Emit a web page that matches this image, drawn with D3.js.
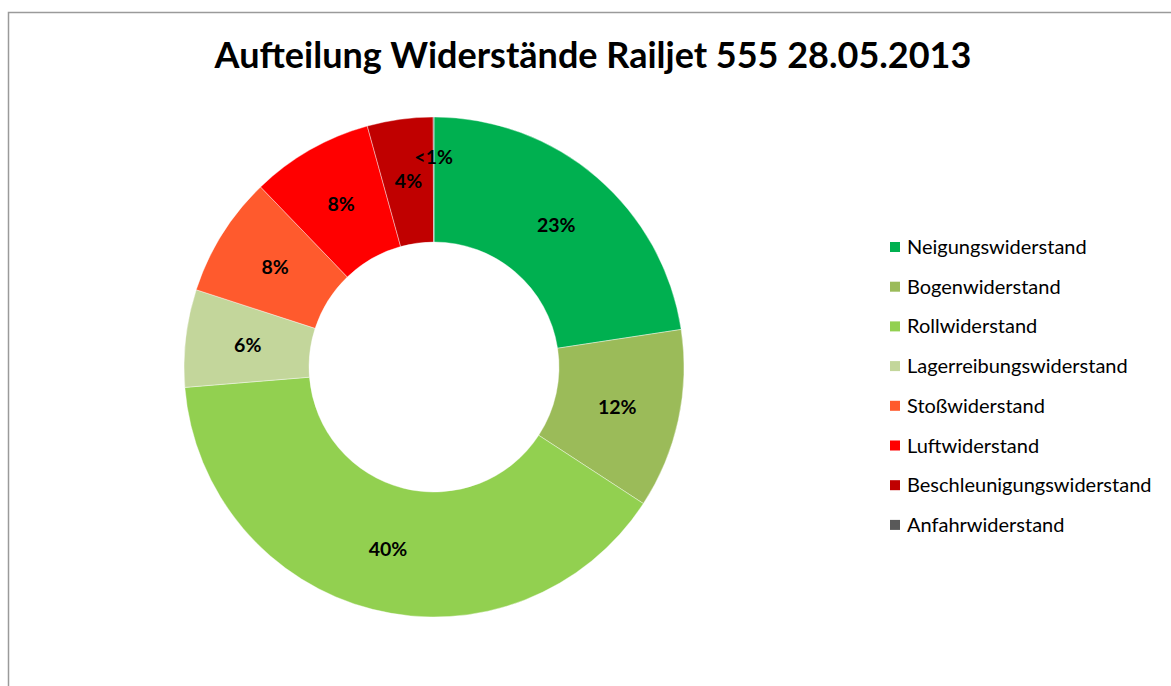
<!DOCTYPE html>
<html>
<head>
<meta charset="utf-8">
<script src="https://cdn.jsdelivr.net/npm/d3@7"></script>
<style>
  body { margin: 0; background: #fff; }
  svg { display: block; }
</style>
</head>
<body>
<svg id="chart" width="1171" height="686"></svg>
<script>
// Share of each resistance (percent)
const categories = ["Neigungswiderstand", "Bogenwiderstand", "Rollwiderstand", "Lagerreibungswiderstand",
                    "Stoßwiderstand", "Luftwiderstand", "Beschleunigungswiderstand", "Anfahrwiderstand"];
const shares = [22.6, 11.6, 39.5, 6.3, 7.8, 7.9, 4.25, 0.05];
const colors = ["#00B050", "#9BBB59", "#92D050", "#C3D69B", "#FF5A2D", "#FF0000", "#C00000", "#595959"];
const title = "Aufteilung Widerstände Railjet 555 28.05.2013";

const font = "Lato, 'Open Sans', sans-serif";
const svg = d3.select("#chart");

// chart area frame (only left and top edges visible in the picture)
svg.append("rect")
    .attr("x", 8.5).attr("y", 12.5)
    .attr("width", 1200).attr("height", 700)
    .style("fill", "none")
    .style("stroke", "#9a9a9a")
    .style("stroke-width", 1.5);

svg.append("text")
    .attr("x", 593).attr("y", 68)
    .attr("text-anchor", "middle")
    .style("font-family", font)
    .style("font-weight", "bold")
    .style("font-size", "36px")
    .style("fill", "#000")
    .text(title);

const data = categories.map((c, i) => ({ name: c, value: shares[i], color: colors[i] }));

const cx = 434, cy = 367, outerR = 250, innerR = 125;

const pie = d3.pie().sort(null).value(d => d.value);
const arc = d3.arc().innerRadius(innerR).outerRadius(outerR);
const arcs = pie(data);

const g = svg.append("g").attr("transform", `translate(${cx},${cy})`);

g.selectAll("path")
    .data(arcs)
    .enter()
    .append("path")
    .attr("d", arc)
    .style("fill", d => d.data.color)
    .style("stroke", "#fff")
    .style("stroke-width", 0.4);

// labels at the ring's centroid; tiny slices get pushed outward like Excel does
const labelArc = d3.arc().innerRadius(innerR).outerRadius(outerR);
const tinyArc = d3.arc().innerRadius(210).outerRadius(210);

g.selectAll("text.lbl")
    .data(arcs)
    .enter()
    .append("text")
    .attr("class", "lbl")
    .attr("transform", d => {
        const p = d.data.value < 1 ? tinyArc.centroid(d) : labelArc.centroid(d);
        return `translate(${p[0]},${p[1]})`;
    })
    .attr("dy", "0.35em")
    .attr("text-anchor", "middle")
    .style("font-family", font)
    .style("font-weight", "bold")
    .style("font-size", "19.5px")
    .style("fill", "#000")
    .text(d => d.data.value < 1 ? "<1%" : Math.round(d.data.value) + "%");

// legend
const legend = svg.append("g").attr("transform", "translate(890,247)");
const rowH = 39.7;

const rows = legend.selectAll("g")
    .data(data)
    .enter()
    .append("g")
    .attr("transform", (d, i) => `translate(0,${i * rowH})`);

rows.append("rect")
    .attr("x", 0).attr("y", -5)
    .attr("width", 10).attr("height", 10)
    .style("fill", d => d.color);

rows.append("text")
    .attr("x", 17).attr("y", 0)
    .attr("dy", "0.35em")
    .style("font-family", font)
    .style("font-size", "20px")
    .style("fill", "#000")
    .text(d => d.name);
</script>
</body>
</html>
